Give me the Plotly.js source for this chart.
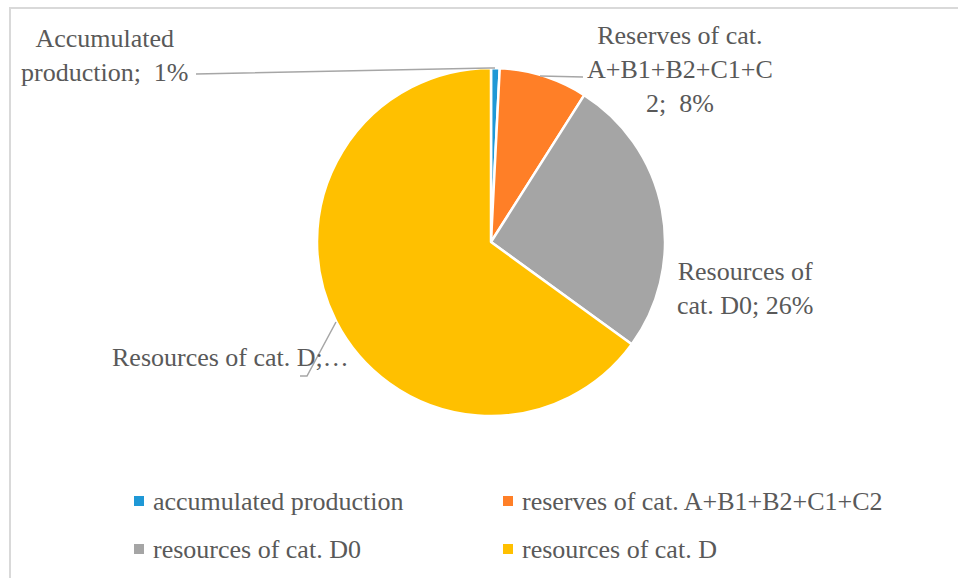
<!DOCTYPE html>
<html>
<head>
<meta charset="utf-8">
<script src="https://cdn.plot.ly/plotly-3.0.1.min.js"></script>
<style>html,body{margin:0;padding:0;background:#fff;}#chart{width:958px;height:578px;}</style>
</head>
<body>
<div id="chart"></div>
<script>
// ---- data ----
const categories = ["accumulated production", "reserves of cat. A+B1+B2+C1+C2", "resources of cat. D0", "resources of cat. D"];
const values = [0.8, 8.2, 26, 65];
const dataLabelNames = ["Accumulated<br>production;", "Reserves of cat.<br>A+B1+B2+C1+C<br>2;", "Resources of<br>cat. D0;", "Resources of cat. D;…"];
const colors = ["#1F98D6", "#FF7F27", "#A5A5A5", "#FFC000"];

// ---- layout helpers ----
const W = 958, H = 578;
const px = x => x / W;
const py = y => 1 - y / H;
const FONT = "Liberation Serif, Times New Roman, serif";
const TXT = "#595959";

const total = values.reduce((a, b) => a + b, 0);
const pct = values.map(v => Math.round(v / total * 100) + "%");

const trace = {
  type: "pie",
  labels: categories,
  values: values,
  sort: false,
  direction: "clockwise",
  rotation: 0,
  textinfo: "none",
  hoverinfo: "label+percent",
  marker: { colors: colors, line: { color: "#ffffff", width: 2.5 } },
  domain: { x: [px(317), px(665)], y: [py(416), py(68)] },
  showlegend: false
};

// data label placements (layout only)
const labelPos = [
  { x: 105, y: 55, anchor: "center", sep: "  " },
  { x: 680, y: 70, anchor: "center", sep: "  " },
  { x: 745, y: 288, anchor: "center", sep: " " },
  { x: 110, y: 357, anchor: "left", sep: "" }
];

const annotations = [];
dataLabelNames.forEach((name, i) => {
  const p = labelPos[i];
  const text = i === 3 ? name : name + p.sep + pct[i];
  annotations.push({
    xref: "paper", yref: "paper", x: px(p.x), y: py(p.y),
    xanchor: p.anchor, yanchor: "middle", align: "center",
    text: text, showarrow: false,
    font: { family: FONT, size: 26, color: TXT }
  });
});

// manual legend (2x2)
const legendPos = [[134, 501], [503, 501], [134, 549], [503, 549]];
const shapes = [];
categories.forEach((c, i) => {
  const [lx, ly] = legendPos[i];
  shapes.push({
    type: "rect", xref: "paper", yref: "paper",
    x0: px(lx), x1: px(lx + 10), y0: py(ly - 5), y1: py(ly + 5),
    fillcolor: colors[i], line: { width: 0 }
  });
  annotations.push({
    xref: "paper", yref: "paper", x: px(lx + 17), y: py(ly),
    xanchor: "left", yanchor: "middle", text: c, showarrow: false,
    font: { family: FONT, size: 26, color: TXT }
  });
});

// leader lines (layout positions)
const leaderPaths = [
  [[196, 74], [490, 68], [495, 68]],
  [[540, 76], [583, 77]],
  [[300, 376], [307, 376], [336, 322]]
];
leaderPaths.forEach(pts => {
  shapes.push({
    type: "path", xref: "paper", yref: "paper",
    path: "M" + pts.map(p => px(p[0]) + "," + py(p[1])).join("L"),
    line: { color: "#A6A6A6", width: 1.5 }
  });
});

// chart frame (top & left visible)
shapes.push({
  type: "path", xref: "paper", yref: "paper",
  path: "M" + px(10) + "," + py(600) + "L" + px(10) + "," + py(8) + "L" + px(1000) + "," + py(8),
  line: { color: "#D9D9D9", width: 2 }
});

const layout = {
  width: W, height: H,
  margin: { l: 0, r: 0, t: 0, b: 0 },
  paper_bgcolor: "#ffffff",
  plot_bgcolor: "#ffffff",
  showlegend: false,
  font: { family: FONT, color: TXT },
  annotations: annotations,
  shapes: shapes
};

Plotly.newPlot("chart", [trace], layout, { displayModeBar: false, staticPlot: true });
</script>
</body>
</html>
